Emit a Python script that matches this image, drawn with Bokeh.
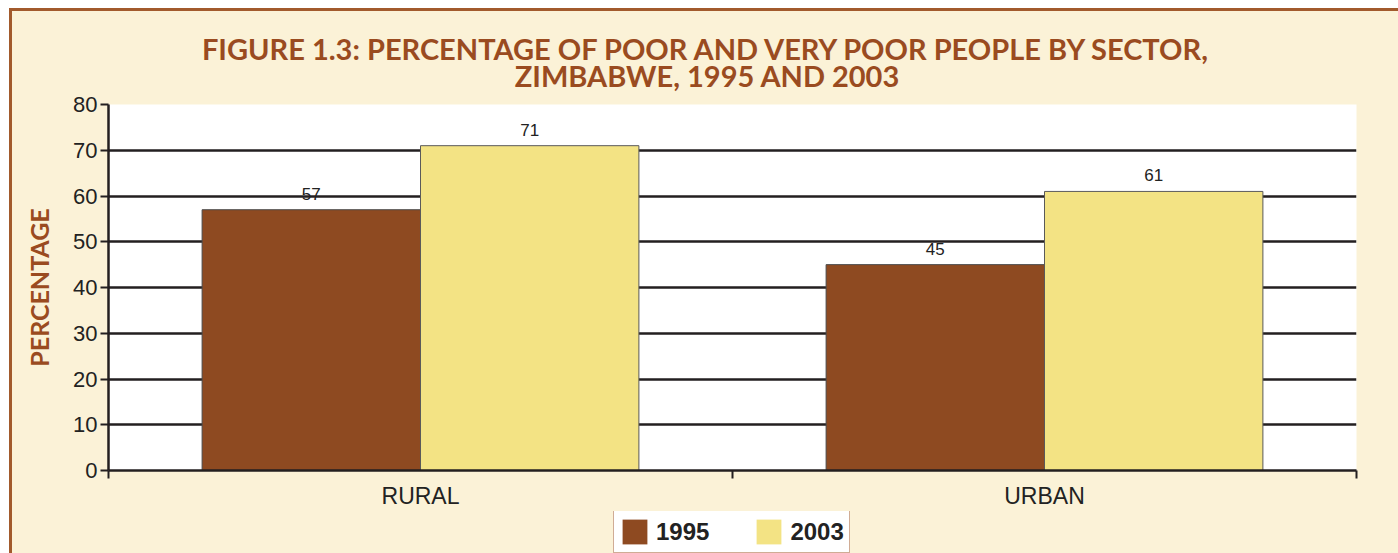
from bokeh.plotting import figure
from bokeh.layouts import column
from bokeh.models import (Range1d, FixedTicker, LinearAxis, Legend, LegendItem,
                          ColumnDataSource, Label, LabelSet, Grid)
from bokeh.core.properties import value
from bokeh.embed import file_html
from bokeh.resources import INLINE

categories = ["RURAL", "URBAN"]
series_names = ["1995", "2003"]
values_1995 = [57, 45]
values_2003 = [71, 61]
y_ticks = [0, 10, 20, 30, 40, 50, 60, 70, 80]
title_lines = ["FIGURE 1.3: PERCENTAGE OF POOR AND VERY POOR PEOPLE BY SECTOR,",
               "ZIMBABWE, 1995 AND 2003"]

BROWN = "#8E4A21"
YELLOW = "#F3E384"
CREAM = "#FBF2D7"
TITLE_C = "#9A4B20"
BORDER_C = "#A25A2C"
DARK = "#231F20"
W = 1386
ML, MR = 96, 42

centers = [i + 0.5 for i in range(len(categories))]
bw = 0.35

src1 = ColumnDataSource(dict(x=[c - bw / 2 for c in centers], top=values_1995,
                             lab=[str(v) for v in values_1995]))
src2 = ColumnDataSource(dict(x=[c + bw / 2 for c in centers], top=values_2003,
                             lab=[str(v) for v in values_2003]))

# ---- title strip ----
pt = figure(width=W, height=82, output_backend="svg", toolbar_location=None,
            x_range=Range1d(0, 1248), y_range=Range1d(0, 82),
            x_axis_type=None, y_axis_type=None,
            min_border_left=ML, min_border_right=MR, min_border_top=0, min_border_bottom=0)
pt.background_fill_color = CREAM
pt.border_fill_color = CREAM
pt.outline_line_color = None
pt.xgrid.visible = False
pt.ygrid.visible = False
for txt, yy in zip(title_lines, (45, 18)):
    pt.add_layout(Label(x=599, y=yy, text=txt, text_align="center", text_baseline="middle",
                        text_font="Lato", text_font_style="bold", text_line_height=1.0,
                        text_font_size="29px", text_color=TITLE_C))

# ---- main chart ----
p = figure(width=W, height=418, output_backend="svg", toolbar_location=None,
           x_range=Range1d(0, len(categories)), y_range=Range1d(0, 80),
           x_axis_type=None, y_axis_type=None,
           min_border_left=ML, min_border_right=MR, min_border_top=11, min_border_bottom=40)
p.background_fill_color = "white"
p.border_fill_color = CREAM
p.outline_line_color = None

r1 = p.vbar(x="x", top="top", width=bw, bottom=0, source=src1, fill_color=BROWN,
            line_color="#4a4a4a", line_width=1)
r2 = p.vbar(x="x", top="top", width=bw, bottom=0, source=src2, fill_color=YELLOW,
            line_color="#5a5a5a", line_width=1)

for s in (src1, src2):
    p.add_layout(LabelSet(x="x", y="top", text="lab", source=s, text_align="center",
                          text_baseline="bottom", y_offset=10, text_font_size="17px",
                          text_font=value("Liberation Sans"), text_color="#222222"))

p.xgrid.grid_line_color = None
g = Grid(dimension=1, ticker=FixedTicker(ticks=y_ticks), level="underlay")
g.grid_line_color = DARK
g.grid_line_width = 2.5
p.add_layout(g)

yax = LinearAxis(ticker=FixedTicker(ticks=y_ticks))
yax.axis_line_color = DARK
yax.axis_line_width = 2.5
yax.major_tick_line_color = DARK
yax.major_tick_line_width = 2
yax.major_tick_out = 8
yax.major_tick_in = 0
yax.minor_tick_line_color = None
yax.major_label_text_font = "Liberation Sans"
yax.major_label_text_font_size = "22px"
yax.major_label_text_line_height = 1.0
yax.major_label_text_color = "#222222"
yax.major_label_standoff = 3
yax.axis_label = "PERCENTAGE"
yax.axis_label_text_font = "Lato"
yax.axis_label_text_font_style = "bold"
yax.axis_label_text_font_size = "25px"
yax.axis_label_text_color = TITLE_C
yax.axis_label_standoff = 16
p.add_layout(yax, "left")

xax = LinearAxis(ticker=FixedTicker(ticks=centers,
                                    minor_ticks=[float(i) for i in range(len(categories) + 1)]))
xax.major_label_overrides = {c: n for c, n in zip(centers, categories)}
xax.axis_line_color = DARK
xax.axis_line_width = 2.5
xax.major_tick_line_color = None
xax.minor_tick_line_color = DARK
xax.minor_tick_line_width = 2
xax.minor_tick_out = 8
xax.minor_tick_in = 0
xax.major_label_text_font = "Liberation Sans"
xax.major_label_text_font_size = "23px"
xax.major_label_text_color = "#222222"
xax.major_label_standoff = 4
p.add_layout(xax, "below")

# ---- legend strip ----
pl = figure(width=W, height=42, output_backend="svg", toolbar_location=None,
            x_range=Range1d(0, len(categories)), y_range=Range1d(500, 600),
            x_axis_type=None, y_axis_type=None,
            min_border_left=ML, min_border_right=MR, min_border_top=0, min_border_bottom=0)
pl.background_fill_color = CREAM
pl.border_fill_color = CREAM
pl.outline_line_color = None
pl.xgrid.visible = False
pl.ygrid.visible = False
l1 = pl.vbar(x="x", top="top", width=bw, bottom=0, source=src1, fill_color=BROWN,
             line_color=None)
l2 = pl.vbar(x="x", top="top", width=bw, bottom=0, source=src2, fill_color=YELLOW,
             line_color=None)
legend = Legend(items=[LegendItem(label=series_names[0], renderers=[l1], index=0),
                       LegendItem(label=series_names[1], renderers=[l2], index=0)],
                orientation="horizontal", location=(505, 0))
legend.background_fill_color = "white"
legend.background_fill_alpha = 1
legend.border_line_color = BORDER_C
legend.border_line_width = 1.5
legend.glyph_width = 31
legend.glyph_height = 31
legend.label_text_font = "Liberation Sans"
legend.label_text_font_style = "bold"
legend.label_text_font_size = "24px"
legend.label_text_color = "#222222"
legend.spacing = 44
legend.padding = 5
legend.margin = 0
legend.label_standoff = 6
pl.add_layout(legend, "center")

layout = column(pt, p, pl, spacing=0,
                styles={"border-top": f"3px solid {BORDER_C}",
                        "border-left": f"3px solid {BORDER_C}",
                        "margin-top": "8px", "margin-left": "9px",
                        "background-color": CREAM})

open("out.html", "w").write(file_html(layout, INLINE))
